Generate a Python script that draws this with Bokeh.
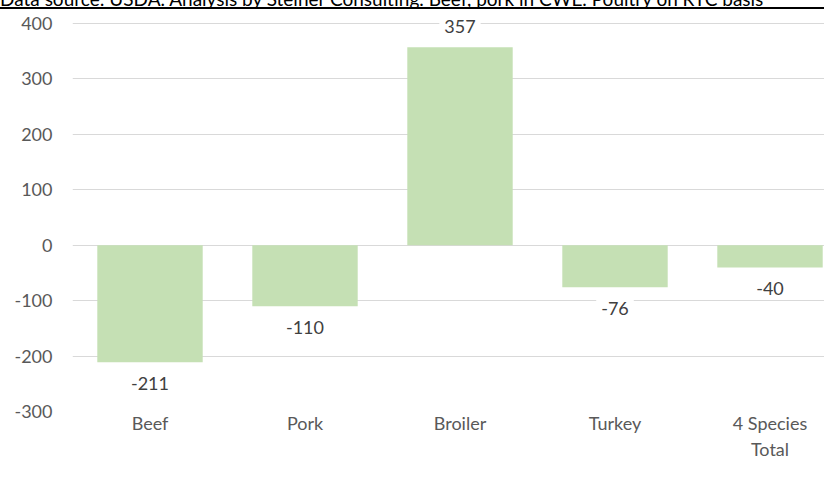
from bokeh.plotting import figure
from bokeh.layouts import column
from bokeh.models import ColumnDataSource, LabelSet, Range1d, FixedTicker, Div
from bokeh.core.properties import value
from bokeh.embed import file_html
from bokeh.resources import INLINE

categories = ["Beef", "Pork", "Broiler", "Turkey", "4 Species\nTotal"]
values = [-211, -110, 357, -76, -40]
y_ticks = [-300, -200, -100, 0, 100, 200, 300, 400]
source_note = "Data source: USDA. Analysis by Steiner Consulting. Beef, pork in CWE. Poultry on RTC basis"

FONT = "Lato"
W, H = 824, 463
HEAD_H = 9
LEFT, BOTTOM = 72, 52
main_h = H - HEAD_H
frame_h = main_h - BOTTOM
top_gap = 14                      # px between frame top and the 400 line
scale = (frame_h - top_gap) / (max(y_ticks) - min(y_ticks))
y_end = max(y_ticks) + top_gap / scale
cat_px = 155                      # px per category slot
x_span = (W - LEFT) / cat_px

# ---- header strip: clipped source note above a black rule
head = Div(
    text=('<div style="height: 7px; overflow: visible; margin: 0; padding: 0;">'
          '<div style="position: relative; top: -11px; font-family: Lato, sans-serif; '
          'font-size: 19px; line-height: 19px; white-space: nowrap; color: #000000;">'
          + source_note + '</div></div>'),
    width=W, height=HEAD_H,
    styles={"overflow": "hidden", "border-bottom": "2px solid #000000",
            "box-sizing": "border-box", "margin": "0", "padding": "0",
            "height": f"{HEAD_H}px", "line-height": "7px"})

# ---- main chart
xs = list(range(len(categories)))
p = figure(width=W, height=main_h,
           x_range=Range1d(-0.5, -0.5 + x_span),
           y_range=Range1d(min(y_ticks), y_end),
           output_backend="svg", toolbar_location=None,
           min_border_left=LEFT, min_border_right=0,
           min_border_top=0, min_border_bottom=BOTTOM)
p.outline_line_color = None
p.background_fill_color = "white"

src = ColumnDataSource(dict(
    x=xs,
    val=values,
    txt=[str(v) for v in values],
    up=[21 if v >= 0 else -21 for v in values],
    down=[-21 if v >= 0 else 21 for v in values],
))

p.vbar(x="x", top="val", bottom=0, width=0.68, source=src,
       fill_color="#c5e0b4", line_color=None)

try:
    p.text(x="x", y="val", text="txt", y_offset="down", source=src,
           text_align="center", text_baseline="middle",
           text_font=value(FONT), text_font_size=value("18px"),
           text_color="#404040", background_fill_color="white",
           padding=5)
except Exception:
    labels = LabelSet(x="x", y="val", text="txt", y_offset="up", source=src,
                      text_align="center", text_baseline="middle",
                      text_font=value(FONT), text_font_size=value("18px"),
                      text_color="#404040", background_fill_color="white")
    p.add_layout(labels)

# axes
for ax in (p.xaxis, p.yaxis):
    ax.axis_line_color = None
    ax.major_tick_line_color = None
    ax.minor_tick_line_color = None
    ax.major_tick_out = 0
    ax.major_tick_in = 0
    ax.major_label_text_font = FONT
    ax.major_label_text_font_size = "18px"
    ax.major_label_text_color = "#595959"
p.yaxis.ticker = FixedTicker(ticks=y_ticks)
p.yaxis.major_label_overrides = {t: str(t) for t in y_ticks}
p.yaxis.major_label_standoff = 20
p.xaxis.ticker = FixedTicker(ticks=xs)
p.xaxis.major_label_overrides = {i: c for i, c in zip(xs, categories)}
p.xaxis.major_label_standoff = 0
p.xgrid.grid_line_color = None
p.ygrid.grid_line_color = "#d9d9d9"
p.ygrid.grid_line_width = 1

layout = column(head, p, spacing=0)
open("out.html", "w").write(file_html(layout, INLINE))
